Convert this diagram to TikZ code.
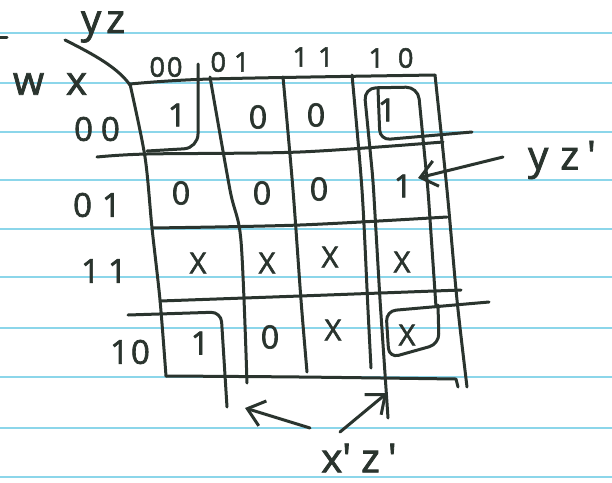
\documentclass[tikz,border=0pt]{standalone}
\usepackage{fontspec}
\setmainfont{Open Sans}
\newfontfamily\hand{Open Sans}[FakeBold=2]
\usetikzlibrary{arrows.meta}
\definecolor{ink}{RGB}{42,52,46}
\definecolor{ruled}{RGB}{140,214,234}
\begin{document}
\begin{tikzpicture}[x=1pt,y=-1pt,
  ink/.style={draw=ink, line width=3pt, line cap=round, line join=round},
  ruleline/.style={draw=ruled, line width=2pt},
  cell/.style={text=ink, font=\hand\fontsize{32}{32}\selectfont, inner sep=0pt},
  xcell/.style={text=ink, font=\hand\fontsize{29}{29}\selectfont, inner sep=0pt},
  head/.style={text=ink, font=\hand\fontsize{27}{27}\selectfont, inner sep=0pt},
  rowhead/.style={text=ink, font=\hand\fontsize{33}{33}\selectfont, inner sep=0pt},
  lab/.style={text=ink, font=\hand\fontsize{40}{40}\selectfont, inner sep=0pt},
  arr/.style={ink, -{Straight Barb[length=16pt,width=26pt,line width=3pt]}}
]
\useasboundingbox (0,0) rectangle (612,482);
\fill[white] (0,0) rectangle (612,482);
\foreach \yy in {33,83,132,180,229,277,328,377,428,477}
  \draw[ruleline] (0,\yy) -- (612,\yy);
% stray mark
\draw[ink] (0,37) -- (7,37);
% grid outline
\draw[ink] plot[smooth, tension=0.5] coordinates {(130,84) (145,157) (152,228) (160,300) (166,376)};
\draw[ink] plot[smooth, tension=0.5] coordinates {(130,84) (210,79) (435,75)};
\draw[ink] plot[smooth, tension=0.5] coordinates {(435,75) (447,190) (457,300) (467,387)};
\draw[ink] plot[smooth, tension=0.5] coordinates {(166,376) (300,377) (456,379)} -- (458,387);
% interior columns
\draw[ink] plot[smooth, tension=0.5] coordinates {(210,77) (230,190) (241,241) (247,383)};
\draw[ink] plot[smooth, tension=0.5] coordinates {(283,77) (293,190) (301,300) (307,372)};
\draw[ink] plot[smooth, tension=0.5] coordinates {(352,75) (362,190) (368,310) (371,368)};
% interior rows
\draw[ink] plot[smooth, tension=0.5] coordinates {(97,157) (147,154) (300,152) (443,142)};
\draw[ink] plot[smooth, tension=0.5] coordinates {(152,228) (300,225) (447,217)};
\draw[ink] plot[smooth, tension=0.5] coordinates {(160,301) (300,296) (461,290)};
% group loops
\draw[ink, rounded corners=14pt] (198,64) -- (198,148) -- (147,151);
\draw[ink, rounded corners=10pt] (128,315) -- (221,312) -- (227,407);
\draw[ink, rounded corners=10pt] (378,89) -- (380,140) -- (472,132);
\draw[ink, rounded corners=12pt] (388,418) -- (380,300) -- (373,180) -- (364,88) -- (418,87) -- (428,190) -- (436,307);
\draw[ink, rounded corners=10pt] (489,302) -- (386,311) -- (389,358) -- (439,344) -- (438,305);
% corner diagonal
\coordinate (dg) at (65,40);
\coordinate (gc) at (130,85);
\draw[ink] (dg) .. controls (95,55) and (118,68) .. (gc);
% labels
\node[lab] (yz) at (103,27) {y\hspace{5pt}z};
\node[lab] (wx) at (50,84) {w\hspace{22pt}x};
\node[head] (h00) at (166,67) {0\hspace{2pt}0};
\node[head] (h01) at (230,62) {0\hspace{8pt}1};
\node[head] (h11) at (313,57) {1\hspace{10pt}1};
\node[head] (h10) at (391,58) {1\hspace{14pt}0};
\node[rowhead] (r00) at (97,129) {0\hspace{8pt}0};
\node[rowhead] (r01) at (97,205) {0\hspace{10pt}1};
\node[rowhead] (r11) at (104,271) {1\hspace{8pt}1};
\node[rowhead] (r10) at (130,352) {1\hspace{2pt}0};
% cells
\node[cell] (m0) at (177,115) {1};
\node[cell] (m1) at (258,117) {0};
\node[cell] (m3) at (316,115) {0};
\node[cell] (m2) at (387,110) {1};
\node[cell] (m4) at (181,193) {0};
\node[cell] (m5) at (262,193) {0};
\node[cell] (m7) at (319,189) {0};
\node[cell] (m6) at (403,186) {1};
\node[xcell] (m12) at (198,263) {X};
\node[xcell] (m13) at (267,263) {X};
\node[xcell] (m15) at (330,257) {X};
\node[xcell] (m14) at (402,262) {X};
\node[cell] (m8) at (200,343) {1};
\node[cell] (m9) at (270,337) {0};
\node[xcell] (m11) at (333,330) {X};
\node[xcell] (m10) at (407,335) {X};
% annotations
\node[lab] (yzp) at (562,160) {y\hspace{12pt}z\hspace{8pt}'};
\node[lab] (xzp) at (359,458) {x'\hspace{10pt}z\hspace{8pt}'};
\coordinate (ya) at (503,157);
\coordinate (yb) at (418,178);
\draw[arr] (ya) -- (yb);
\coordinate (xa) at (310,428);
\coordinate (xb) at (245,408);
\draw[arr] (xa) -- (xb);
\coordinate (xc) at (340,432);
\coordinate (xd) at (387,393);
\draw[arr] (xc) -- (xd);
\end{tikzpicture}
\end{document}
